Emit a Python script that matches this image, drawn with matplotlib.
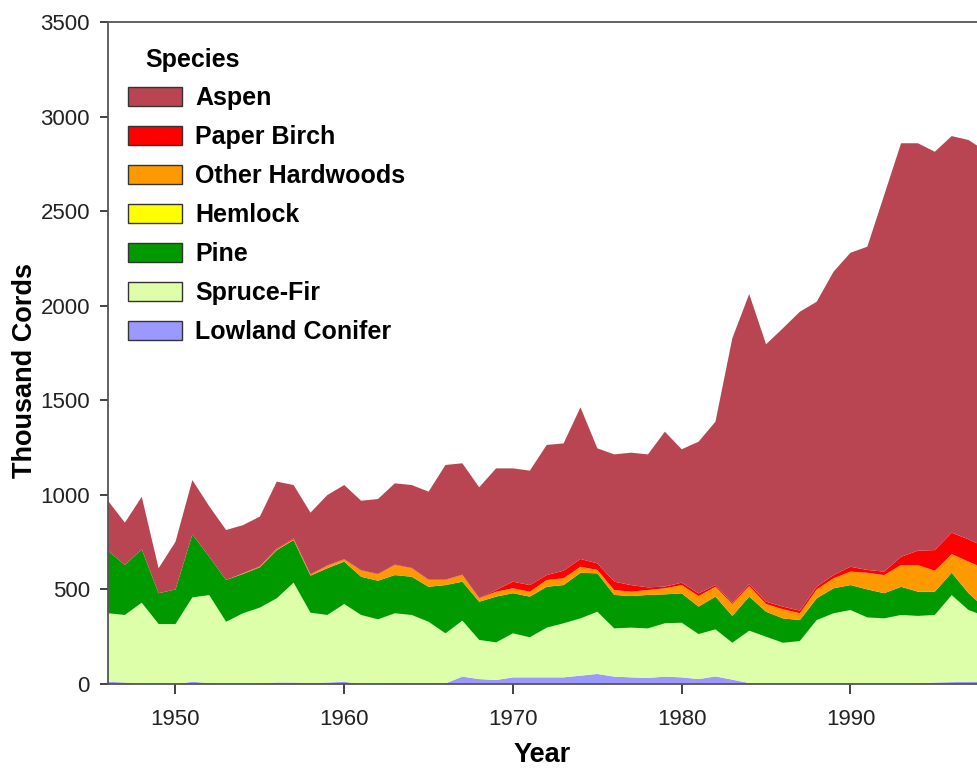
import matplotlib
matplotlib.use("Agg")
import matplotlib.pyplot as plt
from matplotlib.patches import Patch

years = list(range(1946, 1999))

lowland_conifer = [12, 8, 0, 0, 0, 12, 5, 0, 0, 3, 8, 8, 5, 8, 12, 0, 0, 5, 3, 3,
                   3, 39, 26, 21, 35, 35, 35, 35, 44, 53, 39, 35, 32, 39, 35, 26, 40, 23, 5, 0,
                   3, 0, 3, 0, 3, 0, 0, 0, 3, 8, 10, 12, 12]
spruce_fir = [362, 357, 430, 317, 317, 446, 465, 329, 374, 401, 445, 528, 372, 357, 411, 365, 342, 369, 362, 326,
              265, 296, 207, 199, 233, 212, 263, 286, 303, 329, 255, 263, 262, 282, 289, 238, 249, 195, 277, 250,
              215, 227, 335, 374, 388, 352, 347, 365, 357, 357, 460, 379, 346]
pine = [331, 264, 282, 163, 183, 333, 203, 221, 208, 213, 255, 225, 196, 247, 224, 202, 204, 202, 202, 185,
        255, 206, 202, 242, 212, 215, 216, 202, 241, 203, 177, 167, 177, 153, 155, 145, 173, 142, 180, 132,
        129, 111, 115, 132, 132, 148, 133, 149, 128, 123, 118, 89, 40]
hemlock = [0, 0, 0, 0, 0, 0, 0, 0, 0, 0, 0, 0, 0, 0, 0, 0, 0, 0, 0, 0,
           0, 0, 0, 0, 0, 0, 0, 0, 0, 0, 0, 0, 0, 0, 0, 0, 0, 0, 0, 0,
           0, 0, 0, 0, 0, 0, 0, 0, 0, 0, 0, 0, 0]
other_hardwoods = [0, 0, 0, 0, 0, 0, 0, 0, 3, 3, 4, 4, 5, 13, 11, 33, 34, 53, 45, 36,
                   27, 35, 18, 26, 26, 26, 36, 36, 32, 18, 26, 23, 26, 32, 44, 56, 52, 63, 56, 41,
                   48, 36, 47, 53, 71, 88, 96, 115, 141, 111, 99, 167, 210]
paper_birch = [0, 0, 0, 0, 0, 0, 0, 0, 0, 2, 4, 5, 2, 2, 2, 2, 2, 2, 2, 2,
               2, 2, 2, 9, 35, 35, 26, 40, 41, 35, 44, 35, 14, 9, 13, 14, 9, 7, 11, 12,
               14, 14, 14, 17, 26, 15, 18, 44, 76, 109, 113, 118, 115]
aspen = [264, 224, 278, 132, 252, 287, 267, 264, 255, 263, 354, 282, 326, 372, 392, 367, 396, 430, 438, 465,
         606, 589, 585, 643, 599, 605, 688, 673, 802, 608, 673, 700, 703, 819, 705, 802, 864, 1398, 1533, 1361,
         1472, 1580, 1507, 1604, 1660, 1709, 1991, 2186, 2154, 2106, 2097, 2111, 2095]

species = ["Aspen", "Paper Birch", "Other Hardwoods", "Hemlock", "Pine", "Spruce-Fir", "Lowland Conifer"]
colors = ["#B94553", "#FF0000", "#FF9900", "#FFFF00", "#009900", "#DDFFAA", "#9999FF"]
y_ticks = [0, 500, 1000, 1500, 2000, 2500, 3000, 3500]
x_ticks = [1950, 1960, 1970, 1980, 1990]

narrow = ["Liberation Sans Narrow", "Liberation Sans", "DejaVu Sans"]
regular = ["Liberation Sans", "DejaVu Sans"]

W, H = 977, 768
fig = plt.figure(figsize=(W / 100, H / 100), dpi=100)
left_px, right_px, top_px, bottom_px = 108, 977, 22, 684
ax_w_px = right_px - left_px
ax = fig.add_axes([left_px / W, 1 - bottom_px / H, ax_w_px / W, (bottom_px - top_px) / H])

series_bottom_up = [lowland_conifer, spruce_fir, pine, hemlock, other_hardwoods, paper_birch, aspen]
colors_bottom_up = colors[::-1]
ax.stackplot(years, *series_bottom_up, colors=colors_bottom_up, linewidth=0, antialiased=True)

ax.set_xlim(1946, 1997.5)
ax.set_ylim(0, 3500)
ax.set_xticks(x_ticks)
ax.set_yticks(y_ticks)
for lab in ax.get_xticklabels() + ax.get_yticklabels():
    lab.set_fontfamily(narrow)
    lab.set_fontsize(16)
ax.tick_params(axis="x", direction="out", length=7, width=1.2, pad=11, colors="#222222")
ax.tick_params(axis="y", direction="out", length=6, width=1.2, pad=7, colors="#222222")
for s in ax.spines.values():
    s.set_color("#555555")
    s.set_linewidth(1.3)
ax.spines["right"].set_visible(False)

ax.set_xlabel("Year", fontfamily=narrow, fontsize=19.5, fontweight="bold", labelpad=9)
ax.set_ylabel("Thousand Cords", fontfamily=regular, fontsize=19.5, fontweight="bold")
ax.yaxis.set_label_coords((38 - left_px) / ax_w_px, (684 - 371) / (684 - 22))

fs = 18
fs_px = fs * 100 / 72
handles = [Patch(facecolor=c, edgecolor="#333333", linewidth=1.0) for c in colors]
leg = ax.legend(handles, species, loc="upper left",
                bbox_to_anchor=(128 / W, 1 - 86 / H), bbox_transform=fig.transFigure,
                frameon=False, borderpad=0, borderaxespad=0,
                prop={"family": narrow, "size": fs, "weight": "bold"},
                handlelength=54 / fs_px, handleheight=19 / fs_px,
                handletextpad=13 / fs_px, labelspacing=0.6)
fig.text(145 / W, 1 - 60 / H, "Species", fontfamily=narrow, fontsize=fs, fontweight="bold",
         ha="left", va="center")

fig.savefig("out.png", dpi=100)
